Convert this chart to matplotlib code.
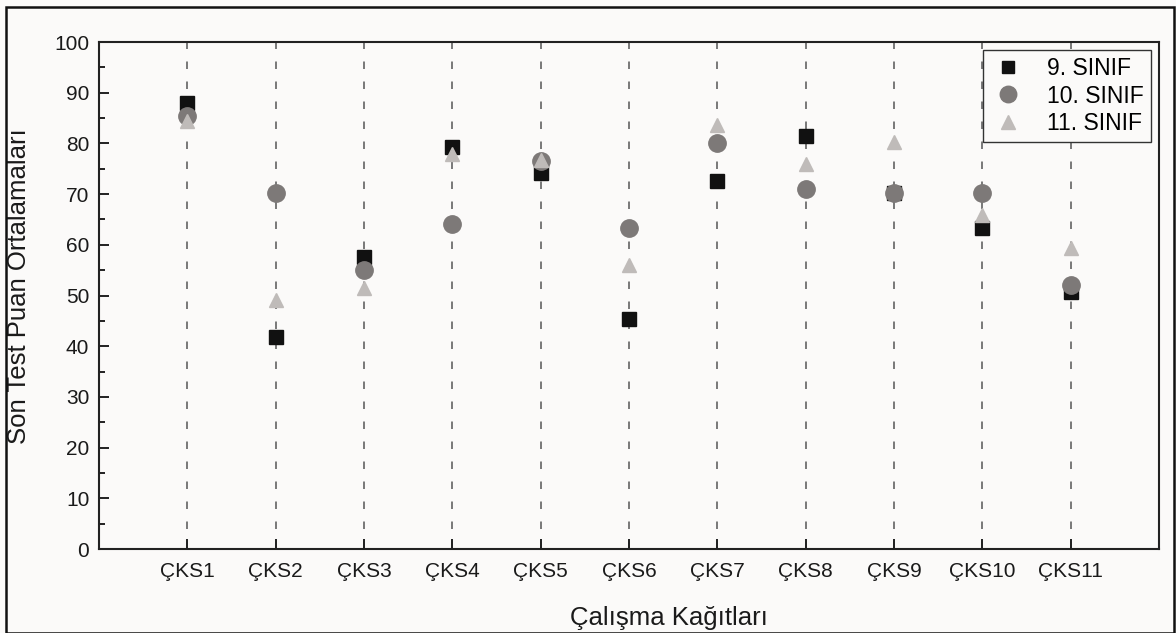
import matplotlib
matplotlib.use('Agg')
import matplotlib.pyplot as plt
import numpy as np
from matplotlib.patches import Rectangle
from matplotlib.ticker import MultipleLocator

plt.rcParams['font.family'] = ['Liberation Sans', 'DejaVu Sans']

categories = ['ÇKS1', 'ÇKS2', 'ÇKS3', 'ÇKS4', 'ÇKS5', 'ÇKS6',
              'ÇKS7', 'ÇKS8', 'ÇKS9', 'ÇKS10', 'ÇKS11']
sinif9 = [87.9, 41.9, 57.5, 79.2, 74.2, 45.3, 72.6, 81.5, 70.3, 63.3, 50.6]
sinif10 = [85.4, 70.3, 55.1, 64.2, 76.5, 63.4, 80.0, 71.1, 70.3, 70.3, 52.1]
sinif11 = [84.4, 49.1, 51.5, 77.9, 76.8, 56.0, 83.7, 76.0, 80.2, 65.8, 59.4]
series_names = ['9. SINIF', '10. SINIF', '11. SINIF']

bg = '#fbfaf9'
fig = plt.figure(figsize=(11.76, 6.33), dpi=100, facecolor=bg)
ax = fig.add_axes([0.0842, 0.1327, 0.9013, 0.8009])
ax.set_facecolor(bg)

x = np.arange(1, len(categories) + 1)

ax.plot(x, sinif9, ls='none', marker='s', ms=9.5, color='#111111',
        label=series_names[0], zorder=3)
ax.plot(x, sinif10, ls='none', marker='o', ms=12.5, color='#7d7978',
        label=series_names[1], zorder=4)
ax.plot(x, sinif11, ls='none', marker='^', ms=10.5, color='#bfbbb9',
        label=series_names[2], zorder=5)

ax.set_xlim(0, 12)
ax.set_ylim(0, 100)
ax.set_xticks(x)
ax.set_xticklabels(categories)
ax.yaxis.set_major_locator(MultipleLocator(10))
ax.yaxis.set_minor_locator(MultipleLocator(5))

ax.grid(axis='x', linestyle=(0, (4.5, 7.5)), color='#626262', linewidth=1.2)
ax.set_axisbelow(True)

for s in ax.spines.values():
    s.set_linewidth(1.5)
    s.set_color('#222222')

ax.tick_params(axis='both', which='major', direction='in', length=7,
               width=1.4, color='#222222', labelsize=15, pad=7,
               labelcolor='#1a1a1a')
ax.tick_params(axis='y', which='minor', direction='in', length=4.5,
               width=1.4, color='#222222')
ax.tick_params(axis='x', pad=9)

ax.set_ylabel('Son Test Puan Ortalamaları', fontsize=18.5, color='#1a1a1a', va='center')
ax.set_xlabel('Çalışma Kağıtları', fontsize=18.5, color='#1a1a1a', va='center')
ax.yaxis.set_label_coords(-0.0755, 0.518)
ax.xaxis.set_label_coords(0.538, -0.136)

leg = ax.legend(loc='upper right', fontsize=16.5, frameon=True, fancybox=False,
                borderaxespad=0.35, borderpad=0.3, labelspacing=0.2,
                handlelength=1.6, handletextpad=0.9, markerscale=0.95)
leg.get_frame().set_edgecolor('#333333')
leg.get_frame().set_linewidth(1.0)
leg.get_frame().set_facecolor(bg)
leg.get_frame().set_alpha(1)

# outer frame around the whole picture
fig.patches.append(Rectangle((0.0051, 0.0), 0.9932, 0.9889, transform=fig.transFigure,
                             fill=False, edgecolor='#111111', linewidth=1.8))

fig.savefig('out.png', dpi=100, facecolor=bg)
